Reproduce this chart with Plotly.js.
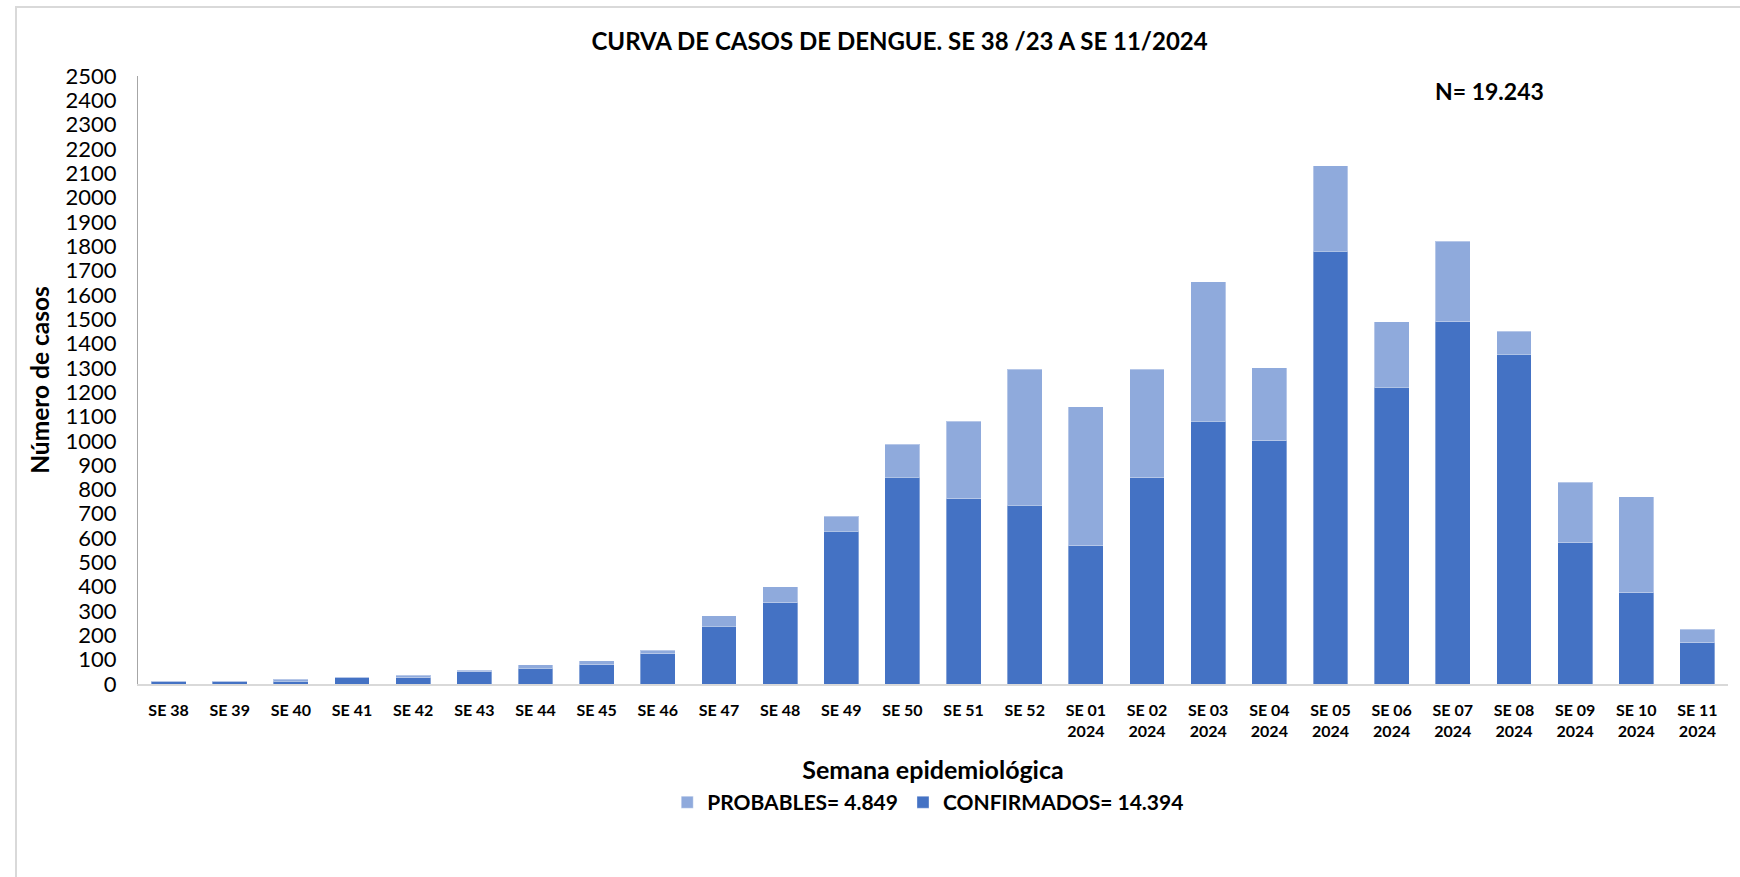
<!DOCTYPE html>
<html>
<head>
<meta charset="utf-8">
<script src="https://cdn.plot.ly/plotly-3.0.1.min.js"></script>
<style>
  body { margin: 0; background: #fff; }
  #chart { width: 1740px; height: 877px; }
  #frame { position: absolute; left: 15px; top: 6px; width: 1740px; height: 900px;
           border-left: 2px solid #d9d9d9; border-top: 2px solid #d9d9d9; pointer-events: none; }
</style>
</head>
<body>
<div id="chart"></div>
<div id="frame"></div>
<script>
// Semanas epidemiológicas
let semanas = ["SE 38", "SE 39", "SE 40", "SE 41", "SE 42", "SE 43", "SE 44", "SE 45", "SE 46",
  "SE 47", "SE 48", "SE 49", "SE 50", "SE 51", "SE 52",
  "SE 01<br>2024", "SE 02<br>2024", "SE 03<br>2024", "SE 04<br>2024", "SE 05<br>2024",
  "SE 06<br>2024", "SE 07<br>2024", "SE 08<br>2024", "SE 09<br>2024", "SE 10<br>2024", "SE 11<br>2024"];

// Casos confirmados y probables por semana
let confirmados = [10, 10, 12, 25, 25, 50, 65, 80, 125, 237, 335, 628, 850, 762, 735,
  568, 848, 1080, 1000, 1780, 1220, 1490, 1355, 580, 375, 170];
let probables = [2, 2, 8, 3, 10, 7, 15, 15, 13, 43, 65, 62, 135, 318, 560,
  572, 447, 575, 300, 350, 270, 330, 95, 250, 395, 55];

let yTicks = [];
for (let v = 0; v <= 2500; v += 100) yTicks.push(v);

let fontFam = "Lato, 'Open Sans', sans-serif";

let data = [
  {
    x: semanas,
    y: confirmados,
    type: 'bar',
    name: 'CONFIRMADOS= 14.394',
    marker: { color: '#4472C4', line: { color: 'rgba(255,255,255,0.35)', width: 1 } }
  },
  {
    x: semanas,
    y: probables,
    type: 'bar',
    name: 'PROBABLES= 4.849',
    marker: { color: '#8FAADC', line: { color: 'rgba(255,255,255,0.35)', width: 1 } }
  }
];

let layout = {
  width: 1740,
  height: 877,
  barmode: 'stack',
  bargap: 0.43,
  paper_bgcolor: '#fff',
  plot_bgcolor: '#fff',
  font: { family: fontFam, color: '#000' },
  margin: { l: 138, r: 12, t: 76, b: 193 },
  title: {
    text: '<b>CURVA DE CASOS DE DENGUE. SE 38 /23 A SE 11/2024</b>',
    font: { size: 24, family: fontFam, color: '#000' },
    x: 0.517, xanchor: 'center',
    y: 0.952, yanchor: 'middle'
  },
  xaxis: {
    type: 'category',
    showgrid: false,
    showline: true,
    linecolor: '#d9d9d9',
    linewidth: 2,
    ticks: '',
    tickfont: { size: 16, family: fontFam, color: '#000', weight: 'bold' },
    ticklabelstandoff: 11,
    tickangle: 0,
    title: {
      text: '<b>Semana epidemiológica</b>',
      font: { size: 25, family: fontFam, color: '#000' },
      standoff: 22
    },
    automargin: false
  },
  yaxis: {
    range: [0, 2500],
    tickvals: yTicks,
    showgrid: false,
    zeroline: false,
    showline: true,
    linecolor: '#a6a6a6',
    linewidth: 1,
    ticks: '',
    tickfont: { size: 22, family: fontFam, color: '#000' },
    ticklabelstandoff: 16,
    title: {
      text: '<b>Número de casos</b>',
      font: { size: 24.5, family: fontFam, color: '#000' },
      standoff: 8
    },
    automargin: false
  },
  showlegend: true,
  legend: {
    orientation: 'h',
    traceorder: 'reversed',
    x: 0.497, xanchor: 'center',
    y: -0.195, yanchor: 'middle',
    font: { size: 21, family: fontFam, color: '#000', weight: 'bold' },
    itemwidth: 30
  },
  annotations: [
    {
      text: '<b>N= 19.243</b>',
      xref: 'paper', yref: 'paper',
      x: 0.850, xanchor: 'center',
      y: 0.975, yanchor: 'middle',
      showarrow: false,
      font: { size: 23, family: fontFam, color: '#000' }
    }
  ]
};

Plotly.newPlot('chart', data, layout, { displayModeBar: false });
</script>
</body>
</html>
